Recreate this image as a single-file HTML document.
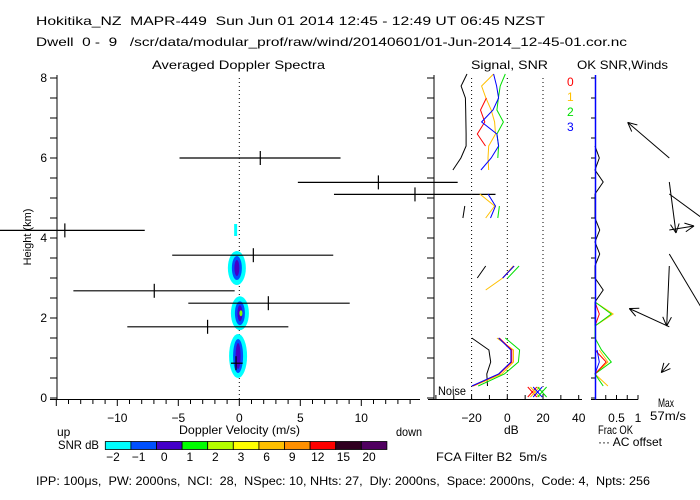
<!DOCTYPE html>
<html><head><meta charset="utf-8"><style>
html,body{margin:0;padding:0;background:#fff;}
svg{display:block;font-family:"Liberation Sans",sans-serif;font-size:12px;}
text{white-space:pre;}
</style></head><body>
<svg id="chart" width="700" height="500" viewBox="0 0 700 500" xmlns="http://www.w3.org/2000/svg" xml:space="preserve">
<text x="36" y="25" textLength="509" lengthAdjust="spacingAndGlyphs">Hokitika_NZ  MAPR-449  Sun Jun 01 2014 12:45 - 12:49 UT 06:45 NZST</text>
<text x="36" y="46" textLength="591" lengthAdjust="spacingAndGlyphs">Dwell  0 -  9   /scr/data/modular_prof/raw/wind/20140601/01-Jun-2014_12-45-01.cor.nc</text>
<text x="152" y="69" textLength="173" lengthAdjust="spacingAndGlyphs">Averaged Doppler Spectra</text>
<text x="471" y="69" textLength="77" lengthAdjust="spacingAndGlyphs">Signal, SNR</text>
<text x="577" y="69" textLength="91" lengthAdjust="spacingAndGlyphs">OK SNR,Winds</text>
<text transform="translate(31,237) rotate(-90)" text-anchor="middle" font-size="11">Height (km)</text>
<text x="179" y="434" textLength="121" lengthAdjust="spacingAndGlyphs">Doppler Velocity (m/s)</text>
<text x="57" y="436">up</text>
<text x="396" y="436" textLength="26" lengthAdjust="spacingAndGlyphs">down</text>
<text x="504" y="434">dB</text>
<text x="598" y="434" textLength="35" lengthAdjust="spacingAndGlyphs">Frac OK</text>
<text x="598" y="446" textLength="64" lengthAdjust="spacingAndGlyphs">··· AC offset</text>
<text x="658" y="407" textLength="16" lengthAdjust="spacingAndGlyphs">Max</text>
<text x="650" y="420" textLength="36" lengthAdjust="spacingAndGlyphs">57m/s</text>
<text x="438" y="395" textLength="28" lengthAdjust="spacingAndGlyphs">Noise</text>
<text x="58" y="449" textLength="41" lengthAdjust="spacingAndGlyphs">SNR dB</text>
<text x="436" y="461" textLength="111" lengthAdjust="spacingAndGlyphs">FCA Filter B2  5m/s</text>
<text x="36" y="485" textLength="614" lengthAdjust="spacingAndGlyphs">IPP: 100μs,  PW: 2000ns,  NCI:  28,  NSpec: 10, NHts: 27,  Dly: 2000ns,  Space: 2000ns,  Code: 4,  Npts: 256</text>
<g id="layer"></g>
</svg>
<script>
// ---- data ----
const barHeights = [6.0, 5.39, 5.09, 4.19, 3.57, 2.68, 2.37, 1.78, 0.87];
const barCenters = [1.72, 11.4, 14.4, -14.3, 1.15, -6.97, 2.38, -2.6, -0.27];
const barLows = [-4.9, 4.8, 7.76, -20, -5.5, -13.6, -4.18, -9.18, -0.68];
const barHighs = [8.3, 17.9, 21, -7.75, 7.7, -0.38, 9.05, 4.02, 0.28];
const spotHeights = [3.25, 2.12, 1.05, 4.2];
const spotVel = [-0.2, 0.05, -0.1, -0.3];
const spotLevels = [2, 3, 2, 0];
const gates = [0.3,0.6,0.9,1.2,1.5,1.8,2.1,2.4,2.7,3.0,3.3,3.6,3.9,4.2,4.5,4.8,5.1,5.4,5.7,6.0,6.3,6.6,6.9,7.2,7.5,7.8,8.1];
const N = null;
const sig0 = [-19.5,-4.5,2.5,2.5,-4.5,N,N,N,N,-2.6,3.8,N,N,N,N,N,N,N,N,N,-12.2,-16.8,-12.6,-15,-11.7,N,N];
const sig1 = [-19,-3,3.5,3.5,-5.8,N,N,N,-12.1,-2.6,3.3,N,N,N,-12.1,-7.1,-15.4,N,-10.4,-10.8,-10.4,-6.6,-7.1,-9,-12,-14.4,-7.7];
const sig2 = [-16.3,-1.6,6.2,6.9,-1.1,N,N,N,N,0.2,6.6,N,N,N,-5.3,-4.4,N,N,N,-5.3,-4.9,-5.8,-2.2,-5.8,-5,-4,-1.1];
const sig3 = [-19.9,-4.9,2,2,-4.9,N,N,N,N,-2.6,3.8,N,N,N,-9.4,-6.6,-10.8,N,-14.8,-9,-4.9,-5.8,-14.4,-8,-4.9,-6,-7.7];
const noiseDb = [-11.1,-11.5,-9.3,-10.3,-19.9,N,N,N,N,-16.8,-12.1,N,N,N,-24.9,-23.8,N,N,-30.5,-26,-23.1,-23.1,-23.2,-23.3,-23.5,-25.9,-22.6];
const noiseMarks = [14, 15.5, 17, 19.5];
const fracAll = [N,N,N,N,N,N,N,0,0.19,0,0,0.11,0,0.11,0,0,0,0.19,0,0.1,0,N,N,N,N,N,N];
const frac0 = [N,0,0.26,0,N,0,0.1,0,N,N,N,N,N,N,N,N,N,N,N,N,N,N,N,N,N,N,N];
const frac1 = [0.3,0,0.3,0.1,N,0,0.42,0,N,N,N,N,N,N,N,N,N,N,N,N,N,N,N,N,N,N,N];
const frac2 = [0.19,0,0.38,0.15,0,0,0.38,0,N,N,N,N,N,N,N,N,N,N,N,N,N,N,N,N,N,N,N];
const frac3 = [N,0,0.1,0.05,N,0,0,0,N,N,N,N,N,N,N,N,N,N,N,N,N,N,N,N,N,N,N];
const windHeights = [6.0, 5.4, 5.1, 4.2, 3.6, 3.3, 1.78, 0.87];
const windU = [-41.6, 6.7, 45, 24.7, 40, -2.6, -40, -8];
const windV = [35.6, -51, -33, 4, -67, -60, 18.3, -9.4];
const cbLabels = ["-2","-1","0","1","2","3","6","9","12","15","20"];
const cbColors = ["#00ffff","#0050ff","#4400c8","#00ff00","#b4ff00","#ffff00","#ffc000","#ff9000","#ff0000","#300020","#500060"];
const yTickLabels = ["0","2","4","6","8"];
const xTickLabels = ["-10","-5","0","5","10"];
const dbTickLabels = ["-20","0","20","40"];
const fracTickLabels = ["0.5","1"];

// ---- scales ----
const yH = h => 398 - 40*h;
const xV = v => 239.3 + 12.2*v;
const xDb = d => 507.3 + 1.785*d;
const xF = f => 595 + 43*f;
const NS = "http://www.w3.org/2000/svg";
const layer = document.getElementById('layer');
function mk(tag, attrs, parent){const e=document.createElementNS(NS,tag);for(const k in attrs)e.setAttribute(k,attrs[k]);(parent||layer).appendChild(e);return e;}
function line(x1,y1,x2,y2,c,w,dash){const e=mk('line',{x1,y1,x2,y2,stroke:c||'#000','stroke-width':w||1});if(dash)e.setAttribute('stroke-dasharray',dash);return e;}

const defs = mk('defs',{});
const cp = mk('clipPath',{id:'wclip'},defs);
mk('rect',{x:596,y:70,width:104,height:330},cp);
const cp2 = mk('clipPath',{id:'mclip'},defs);
mk('rect',{x:0,y:70,width:434,height:330},cp2);
const cp3 = mk('clipPath',{id:'sclip'},defs);
mk('rect',{x:0,y:70,width:582,height:330},cp3);

let e;
e=line(57,75,57,399.5);  
e=line(50,399.5,420,399.5);  
for(let h=0;h<=8;h+=0.5){e=line(50,yH(h),57,yH(h));  }
for(let v=-15;v<=14;v++){const maj=v%5===0;e=line(xV(v),399.5,xV(v),maj?406:404);  }
yTickLabels.forEach((t,i)=>{e=mk('text',{x:47,y:yH(+t)+4,'text-anchor':'end'});e.textContent=t;
 });
xTickLabels.forEach(t=>{e=mk('text',{x:xV(+t),y:422,'text-anchor':'middle'});e.textContent=t.replace('-','\u2212');
 });
e=line(xV(0),78,xV(0),399,'#000',1,'1,3');  

spotHeights.forEach((h,i)=>{
  const g=mk('g',{'clip-path':'url(#mclip)'});
   
  const x=xV(spotVel[i]), y=yH(h), lv=spotLevels[i];
  if(lv===0){mk('rect',{x:x-1.5,y:y-6,width:3,height:12,fill:'#00ffff'},g);return;}
  const ry = i===2?22:17;
  mk('ellipse',{cx:x,cy:y,rx:9,ry:ry,fill:'#00ffff'},g);
  mk('ellipse',{cx:x,cy:y,rx:5,ry:ry-5,fill:'#0050ff'},g);
  mk('ellipse',{cx:x,cy:y,rx:2.5,ry:ry-9,fill:'#4400c8'},g);
  if(lv>=3) mk('ellipse',{cx:x+1,cy:y,rx:1.5,ry:3,fill:'#7fff00'},g);
});

barHeights.forEach((h,i)=>{
  const g=mk('g',{'clip-path':'url(#sclip)'});
   
  const y=yH(h);
  mk('line',{x1:xV(barLows[i]),y1:y,x2:xV(barHighs[i]),y2:y,stroke:'#000','stroke-width':1.2},g);
  mk('line',{x1:xV(barCenters[i]),y1:y-7,x2:xV(barCenters[i]),y2:y+7,stroke:'#000','stroke-width':1.2},g);
});

e=line(434,75,434,399.5);  
e=line(428,399.5,582,399.5);  
for(let h=0;h<=8;h+=0.5){e=line(427,yH(h),434,yH(h));  }
for(let d=-40;d<=40;d+=10){e=line(xDb(d),399.5,xDb(d),395);  }
[-20,0,20].forEach(d=>{e=line(xDb(d),78,xDb(d),399,'#000',1,'1,3');  });
dbTickLabels.forEach(t=>{e=mk('text',{x:xDb(+t),y:422,'text-anchor':'middle'});e.textContent=t.replace('-','\u2212');
 });

function series(arr, xf, color, name){
  let d='', pen=false;
  arr.forEach((v,i)=>{ if(v===null){pen=false;return;} d+=(pen?'L':'M')+xf(v).toFixed(1)+' '+yH(gates[i]).toFixed(1)+' '; pen=true;});
  const p=mk('path',{d:d,fill:'none',stroke:color,'stroke-width':1});
   
  return p;
}
series(noiseDb,xDb,'#000','noise-line');
series(sig1,xDb,'#ffc000','signal-beam-1');
series(sig2,xDb,'#00e000','signal-beam-2');
series(sig0,xDb,'#ff0000','signal-beam-0');
series(sig3,xDb,'#0000ff','signal-beam-3');
const markColors=['#ff0000','#ffc000','#0000ff','#00e000'];
noiseMarks.forEach((d,i)=>{
  const g=mk('g',{stroke:markColors[i],'stroke-width':1});
   
  const x=xDb(d), y=392;
  mk('line',{x1:x-4.5,y1:y-5,x2:x+4.5,y2:y+5},g);
  mk('line',{x1:x-4.5,y1:y+5,x2:x+4.5,y2:y-5},g);
});
['0','1','2','3'].forEach((t,i)=>{e=mk('text',{x:567,y:86+15*i});
e.setAttribute('fill',['#ff0000','#ffc000','#00e000','#0000ff'][i]);e.textContent=t;
 });

e=line(591,399.5,638,399.5);  
for(let h=0;h<=8;h+=0.5){e=line(591,yH(h),595,yH(h));  }
for(let f=0.25;f<=1.01;f+=0.25){e=line(xF(f),399.5,xF(f),395);  }
fracTickLabels.forEach(t=>{e=mk('text',{x:xF(+t),y:422,'text-anchor':'middle'});e.textContent=t;
 });
series(fracAll,xF,'#000','frac-ok-all');
series(frac1,xF,'#ffc000','frac-ok-beam-1');
series(frac2,xF,'#00e000','frac-ok-beam-2');
series(frac0,xF,'#ff0000','frac-ok-beam-0');
series(frac3,xF,'#0000ff','frac-ok-beam-3');
e=line(595.5,75,595.5,399.5,'#0000ff',1.5);  

windHeights.forEach((h,i)=>{
  const g=mk('g',{'clip-path':'url(#wclip)',stroke:'#000','stroke-width':1,fill:'none'});
   
  const x0=669.3, y0=yH(h), x1=x0+windU[i], y1=y0-windV[i];
  mk('line',{x1:x0,y1:y0,x2:x1,y2:y1},g);
  const a=Math.atan2(y0-y1,x0-x1);
  [0.45,-0.45].forEach(da=>mk('line',{x1:x1,y1:y1,x2:x1+10*Math.cos(a+da),y2:y1+10*Math.sin(a+da)},g));
});

cbColors.forEach((c,i)=>{
  e=mk('rect',{x:105.3+25.6*i,y:441.5,width:25.6,height:8,fill:c,stroke:'#000','stroke-width':0.8});
   
  e=mk('text',{x:113+25.6*i,y:461,'text-anchor':'middle'});e.textContent=cbLabels[i].replace('-','\u2212');
   
});
</script>
</body></html>
